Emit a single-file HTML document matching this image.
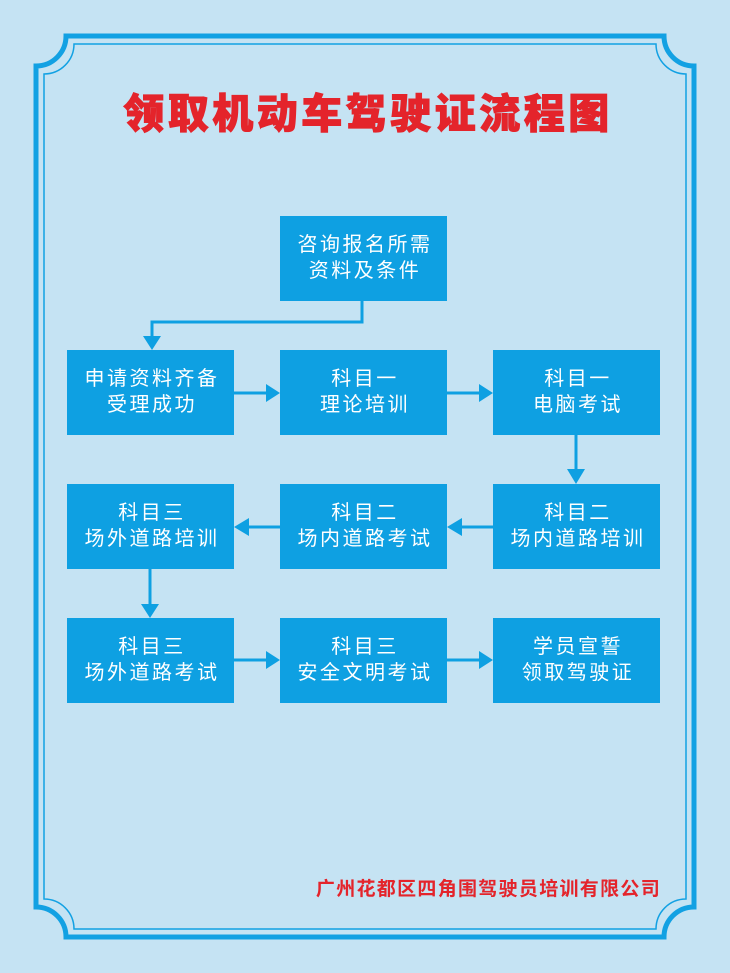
<!DOCTYPE html>
<html><head><meta charset="utf-8"><style>
html,body{margin:0;padding:0;background:#c5e3f3;}
svg{display:block}
text{font-family:"Liberation Sans","Noto Sans CJK SC",sans-serif;}
</style></head><body>
<svg width="730" height="973" viewBox="0 0 730 973" xmlns="http://www.w3.org/2000/svg">
<rect width="730" height="973" fill="#c5e3f3"/>
<g fill="none" stroke="#12a1e3">
<path stroke-width="5" d="M66,36 H664 A30,30 0 0 0 694,66 V907 A30,30 0 0 0 664,937 H66 A30,30 0 0 0 36,907 V66 A30,30 0 0 0 66,36 Z"/>
<path stroke-width="1.5" d="M74,44 H656 A30,30 0 0 0 686,74 V899 A30,30 0 0 0 656,929 H74 A30,30 0 0 0 44,899 V74 A30,30 0 0 0 74,44 Z"/>
</g>
<text x="368" y="128" text-anchor="middle" font-size="41" font-weight="900" fill="#e4242b" stroke="#e4242b" stroke-width="1" letter-spacing="3.5">领取机动车驾驶证流程图</text>
<g fill="#0ea0e2">
<rect x="280" y="216" width="167" height="85"/>
<rect x="67" y="350" width="167" height="85"/>
<rect x="280" y="350" width="167" height="85"/>
<rect x="493" y="350" width="167" height="85"/>
<rect x="67" y="484" width="167" height="85"/>
<rect x="280" y="484" width="167" height="85"/>
<rect x="493" y="484" width="167" height="85"/>
<rect x="67" y="618" width="167" height="85"/>
<rect x="280" y="618" width="167" height="85"/>
<rect x="493" y="618" width="167" height="85"/>
</g>
<g stroke="#0ea0e2" stroke-width="3" fill="none">
<path d="M362,301 V322 H152 V338"/>
<path d="M234,393 H266"/><path d="M447,393 H479"/>
<path d="M576,435 V470"/>
<path d="M493,527 H461"/><path d="M280,527 H248"/>
<path d="M150,569 V605"/>
<path d="M234,660 H266"/><path d="M447,660 H479"/>
</g>
<g fill="#0ea0e2">
<polygon points="143,336 161,336 152,350"/>
<polygon points="266,384 266,402 280,393"/>
<polygon points="479,384 479,402 493,393"/>
<polygon points="567,469 585,469 576,484"/>
<polygon points="462,518 462,536 447,527"/>
<polygon points="249,518 249,536 234,527"/>
<polygon points="141,604 159,604 150,618"/>
<polygon points="266,651 266,669 280,660"/>
<polygon points="479,651 479,669 493,660"/>
</g>
<g fill="#fff" font-size="20" text-anchor="middle" letter-spacing="2.5">
<text x="365" y="251">咨询报名所需</text><text x="365" y="277">资料及条件</text>
<text x="152" y="385">申请资料齐备</text><text x="152" y="411">受理成功</text>
<text x="365" y="385">科目一</text><text x="365" y="411">理论培训</text>
<text x="578" y="385">科目一</text><text x="578" y="411">电脑考试</text>
<text x="152" y="519">科目三</text><text x="152" y="545">场外道路培训</text>
<text x="365" y="519">科目二</text><text x="365" y="545">场内道路考试</text>
<text x="578" y="519">科目二</text><text x="578" y="545">场内道路培训</text>
<text x="152" y="653">科目三</text><text x="152" y="679">场外道路考试</text>
<text x="365" y="653">科目三</text><text x="365" y="679">安全文明考试</text>
<text x="578" y="653">学员宣誓</text><text x="578" y="679">领取驾驶证</text>
</g>
<text x="661" y="895" text-anchor="end" font-size="19" font-weight="bold" fill="#e4242b" letter-spacing="1.3">广州花都区四角围驾驶员培训有限公司</text>
</svg>
</body></html>
